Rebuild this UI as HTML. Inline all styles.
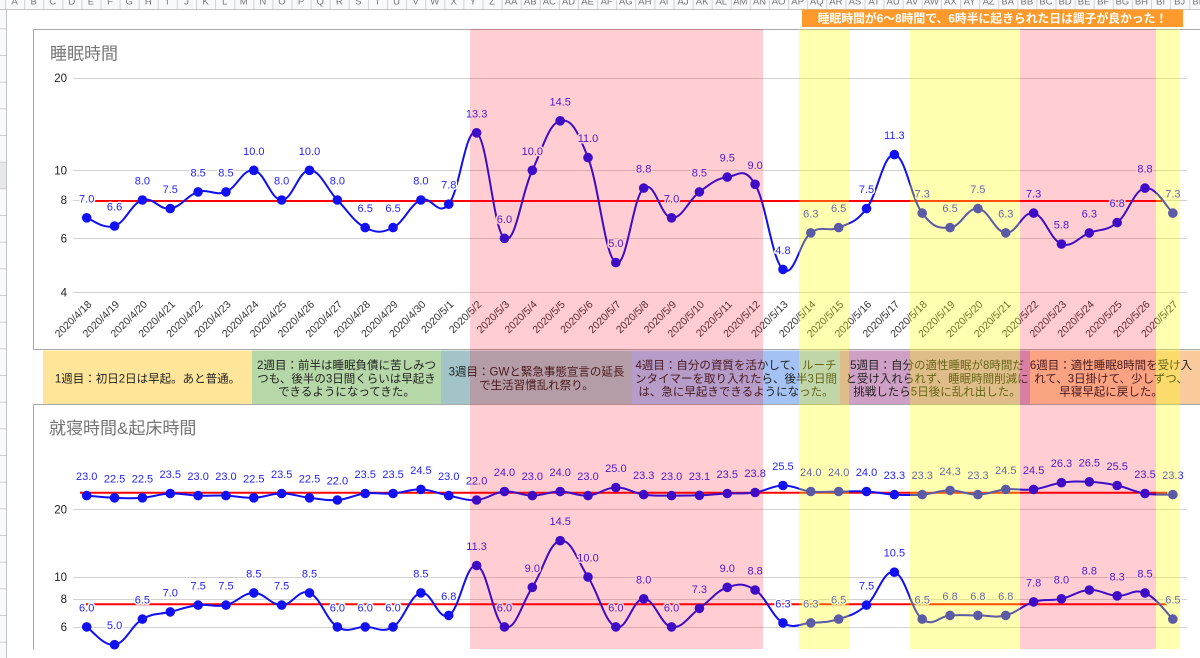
<!DOCTYPE html>
<html><head><meta charset="utf-8">
<style>
html,body{margin:0;padding:0;background:#fff;overflow:hidden;}
svg{display:block;}
text{font-family:"Liberation Sans","Noto Sans CJK JP",sans-serif;}
.l{font-size:11px;fill:#2424f4;text-anchor:middle;paint-order:stroke;stroke:#fff;stroke-width:3px;stroke-linejoin:round;}
.x{font-size:10.5px;fill:#333;text-anchor:end;}
circle{fill:#1010f0;}
.ya{font-size:11.5px;fill:#222;text-anchor:end;}
.an{font-size:11.5px;fill:#1f1f1f;text-anchor:middle;}
.hd{font-size:9.5px;fill:#777;text-anchor:middle;}
.tt{font-size:17px;fill:#757575;}
.ln{fill:none;stroke:#1010f0;stroke-width:2;vector-effect:non-scaling-stroke;}
</style></head><body>
<svg width="1200" height="658" viewBox="0 0 1200 658" xmlns="http://www.w3.org/2000/svg">
<defs>
<pattern id="hc" x="5" y="0" width="19.1" height="9" patternUnits="userSpaceOnUse"><line x1="0.5" y1="0" x2="0.5" y2="9" stroke="#d3d3d3"/></pattern>
</defs>
<rect width="1200" height="658" fill="#fff"/>

<g stroke="#d2d2d2" stroke-width="1">
<line x1="73" y1="78.5" x2="1187" y2="78.5"/>
<line x1="73" y1="170.5" x2="1187" y2="170.5"/>
<line x1="73" y1="200.5" x2="1187" y2="200.5"/>
<line x1="73" y1="238.5" x2="1187" y2="238.5"/>
<line x1="73" y1="292.5" x2="1187" y2="292.5"/>
<line x1="73" y1="509.5" x2="1187" y2="509.5"/>
<line x1="73" y1="577.5" x2="1187" y2="577.5"/>
<line x1="73" y1="599.5" x2="1187" y2="599.5"/>
<line x1="73" y1="627.5" x2="1187" y2="627.5"/>
</g>
<text class="ya" x="67" y="82">20</text>
<text class="ya" x="67" y="174.5">10</text>
<text class="ya" x="67" y="204">8</text>
<text class="ya" x="67" y="242.5">6</text>
<text class="ya" x="67" y="296.5">4</text>
<text class="ya" x="67" y="513.5">20</text>
<text class="ya" x="67" y="581">10</text>
<text class="ya" x="67" y="603">8</text>
<text class="ya" x="67" y="631">6</text>

<text class="tt" x="50" y="59.5">睡眠時間</text>
<text class="tt" x="49" y="434">就寝時間&amp;起床時間</text>

<g stroke="#ff0000" stroke-width="2">
<line x1="86.7" y1="201" x2="1162" y2="201"/>
<line x1="80" y1="492.7" x2="1167" y2="492.7"/>
<line x1="86" y1="604.3" x2="1167" y2="604.3"/>
</g>

<path class="ln" transform="translate(86.7 0) scale(27.85 1)" d="M0,217.8 C0.2,219.44 0.6,229.56 1,226 S1.6,203.48 2,200 S2.6,210.22 3,208.6 S3.6,195.24 4,191.9 S4.6,196.22 5,191.9 S5.6,168.68 6,170.3 S6.6,200 7,200 S7.6,170.3 8,170.3 S8.6,188.54 9,200 S9.6,222.08 10,227.6 S10.6,233.12 11,227.6 S11.6,204.68 12,200 S12.6,217.64 13,204.2 S13.6,125.98 14,132.8 S14.6,230.8 15,238.3 S15.6,193.8 16,170.3 S16.6,123.34 17,120.8 S17.6,129.24 18,157.6 S18.6,256.5 19,262.6 S19.6,197.06 20,188.1 S20.6,217.04 21,217.8 S21.6,200.04 22,191.9 S22.6,178.62 23,177.1 S23.6,165.84 24,184.3 S24.6,259.68 25,269.4 S25.6,241.26 26,232.9 S26.6,232.46 27,227.6 S27.6,223.2 28,208.6 S28.6,153.7 29,154.6 S29.6,198.5 30,213.1 S30.6,228.5 31,227.6 S31.6,207.54 32,208.6 S32.6,232 33,232.9 S33.6,210.88 34,213.1 S34.6,240.04 35,244 S35.6,237.18 36,232.9 S36.6,231.56 37,222.6 S37.6,190 38,188.1 S38.8,208.1 39,213.1"/>
<path class="ln" transform="translate(86.7 0) scale(27.85 1)" d="M0,626.9 C0.2,630.46 0.6,646.26 1,644.7 S1.6,625.66 2,619.1 S2.6,614.7 3,611.9 S3.6,606.46 4,605.1 S4.6,607.54 5,605.1 S5.6,592.9 6,592.9 S6.6,605.1 7,605.1 S7.6,588.54 8,592.9 S8.6,620.1 9,626.9 S9.6,626.9 10,626.9 S10.6,633.7 11,626.9 S11.6,595.2 12,592.9 S12.6,620.88 13,615.4 S13.6,563.2 14,565.5 S14.6,622.54 15,626.9 S15.6,604.54 16,587.3 S16.6,542.76 17,540.7 S17.6,559.76 18,577 S18.6,622.54 19,626.9 S19.6,598.8 20,598.8 S20.6,624.98 21,626.9 S21.6,616.32 22,608.4 S22.6,590.98 23,587.3 S23.6,582.88 24,590 S24.6,616.32 25,622.9 S25.6,623.66 26,622.9 S26.6,622.66 27,619.1 S27.6,614.48 28,605.1 S28.6,569.4 29,572.2 S29.6,610.46 30,619.1 S30.6,616.14 31,615.4 S31.6,615.4 32,615.4 S32.6,618.1 33,615.4 S33.6,605.22 34,601.9 S34.6,601.18 35,598.8 S35.6,590.6 36,590 S36.6,595.22 37,595.8 S37.6,588.24 38,592.9 S38.8,613.86 39,619.1"/>
<path class="ln" transform="translate(86.7 0) scale(27.85 1)" d="M0,495.6 C0.2,496.04 0.6,497.36 1,497.8 S1.6,498.66 2,497.8 S2.6,493.94 3,493.5 S3.6,495.18 4,495.6 S4.6,495.16 5,495.6 S5.6,498.22 6,497.8 S6.6,493.5 7,493.5 S7.6,496.5 8,497.8 S8.6,500.86 9,500 S9.6,494.8 10,493.5 S10.6,494.32 11,493.5 S11.6,488.98 12,489.4 S12.6,493.48 13,495.6 S13.6,500.82 14,500 S14.6,492.38 15,491.5 S15.6,495.6 16,495.6 S16.6,491.5 17,491.5 S17.6,496.4 18,495.6 S18.6,487.7 19,487.5 S19.6,492.98 20,494.6 S20.6,495.46 21,495.6 S21.6,495.72 22,495.3 S22.6,494.06 23,493.5 S23.6,494.1 24,492.5 S24.6,485.7 25,485.5 S25.6,490.3 26,491.5 S26.6,491.5 27,491.5 S27.6,490.88 28,491.5 S28.6,493.98 29,494.6 S29.6,495.44 30,494.6 S30.6,490.4 31,490.4 S31.6,494.8 32,494.6 S32.6,490.44 33,489.4 S33.6,490.74 34,489.4 S34.6,484.22 35,482.7 S35.6,481.24 36,481.8 S36.6,483.16 37,485.5 S37.6,491.68 38,493.5 S38.8,494.38 39,494.6"/>

<g transform="translate(86.7 0)"><circle r="4.8" cy="217.8"/><circle r="4.8" cy="495.6"/><circle r="4.8" cy="626.9"/><text class="l" y="202.3">7.0</text><text class="l" y="480.1">23.0</text><text class="l" y="611.4">6.0</text><text class="x" transform="translate(5.5 305) rotate(-45)">2020/4/18</text></g>
<g transform="translate(114.55 0)"><circle r="4.8" cy="226"/><circle r="4.8" cy="497.8"/><circle r="4.8" cy="644.7"/><text class="l" y="210.5">6.6</text><text class="l" y="482.3">22.5</text><text class="l" y="629.2">5.0</text><text class="x" transform="translate(5.5 305) rotate(-45)">2020/4/19</text></g>
<g transform="translate(142.4 0)"><circle r="4.8" cy="200"/><circle r="4.8" cy="497.8"/><circle r="4.8" cy="619.1"/><text class="l" y="184.5">8.0</text><text class="l" y="482.3">22.5</text><text class="l" y="603.6">6.5</text><text class="x" transform="translate(5.5 305) rotate(-45)">2020/4/20</text></g>
<g transform="translate(170.25 0)"><circle r="4.8" cy="208.6"/><circle r="4.8" cy="493.5"/><circle r="4.8" cy="611.9"/><text class="l" y="193.1">7.5</text><text class="l" y="478">23.5</text><text class="l" y="596.4">7.0</text><text class="x" transform="translate(5.5 305) rotate(-45)">2020/4/21</text></g>
<g transform="translate(198.1 0)"><circle r="4.8" cy="191.9"/><circle r="4.8" cy="495.6"/><circle r="4.8" cy="605.1"/><text class="l" y="176.4">8.5</text><text class="l" y="480.1">23.0</text><text class="l" y="589.6">7.5</text><text class="x" transform="translate(5.5 305) rotate(-45)">2020/4/22</text></g>
<g transform="translate(225.95 0)"><circle r="4.8" cy="191.9"/><circle r="4.8" cy="495.6"/><circle r="4.8" cy="605.1"/><text class="l" y="176.4">8.5</text><text class="l" y="480.1">23.0</text><text class="l" y="589.6">7.5</text><text class="x" transform="translate(5.5 305) rotate(-45)">2020/4/23</text></g>
<g transform="translate(253.8 0)"><circle r="4.8" cy="170.3"/><circle r="4.8" cy="497.8"/><circle r="4.8" cy="592.9"/><text class="l" y="154.8">10.0</text><text class="l" y="482.3">22.5</text><text class="l" y="577.4">8.5</text><text class="x" transform="translate(5.5 305) rotate(-45)">2020/4/24</text></g>
<g transform="translate(281.65 0)"><circle r="4.8" cy="200"/><circle r="4.8" cy="493.5"/><circle r="4.8" cy="605.1"/><text class="l" y="184.5">8.0</text><text class="l" y="478">23.5</text><text class="l" y="589.6">7.5</text><text class="x" transform="translate(5.5 305) rotate(-45)">2020/4/25</text></g>
<g transform="translate(309.5 0)"><circle r="4.8" cy="170.3"/><circle r="4.8" cy="497.8"/><circle r="4.8" cy="592.9"/><text class="l" y="154.8">10.0</text><text class="l" y="482.3">22.5</text><text class="l" y="577.4">8.5</text><text class="x" transform="translate(5.5 305) rotate(-45)">2020/4/26</text></g>
<g transform="translate(337.35 0)"><circle r="4.8" cy="200"/><circle r="4.8" cy="500"/><circle r="4.8" cy="626.9"/><text class="l" y="184.5">8.0</text><text class="l" y="484.5">22.0</text><text class="l" y="611.4">6.0</text><text class="x" transform="translate(5.5 305) rotate(-45)">2020/4/27</text></g>
<g transform="translate(365.2 0)"><circle r="4.8" cy="227.6"/><circle r="4.8" cy="493.5"/><circle r="4.8" cy="626.9"/><text class="l" y="212.1">6.5</text><text class="l" y="478">23.5</text><text class="l" y="611.4">6.0</text><text class="x" transform="translate(5.5 305) rotate(-45)">2020/4/28</text></g>
<g transform="translate(393.05 0)"><circle r="4.8" cy="227.6"/><circle r="4.8" cy="493.5"/><circle r="4.8" cy="626.9"/><text class="l" y="212.1">6.5</text><text class="l" y="478">23.5</text><text class="l" y="611.4">6.0</text><text class="x" transform="translate(5.5 305) rotate(-45)">2020/4/29</text></g>
<g transform="translate(420.9 0)"><circle r="4.8" cy="200"/><circle r="4.8" cy="489.4"/><circle r="4.8" cy="592.9"/><text class="l" y="184.5">8.0</text><text class="l" y="473.9">24.5</text><text class="l" y="577.4">8.5</text><text class="x" transform="translate(5.5 305) rotate(-45)">2020/4/30</text></g>
<g transform="translate(448.75 0)"><circle r="4.8" cy="204.2"/><circle r="4.8" cy="495.6"/><circle r="4.8" cy="615.4"/><text class="l" y="188.7">7.8</text><text class="l" y="480.1">23.0</text><text class="l" y="599.9">6.8</text><text class="x" transform="translate(5.5 305) rotate(-45)">2020/5/1</text></g>
<g transform="translate(476.6 0)"><circle r="4.8" cy="132.8"/><circle r="4.8" cy="500"/><circle r="4.8" cy="565.5"/><text class="l" y="117.3">13.3</text><text class="l" y="484.5">22.0</text><text class="l" y="550">11.3</text><text class="x" transform="translate(5.5 305) rotate(-45)">2020/5/2</text></g>
<g transform="translate(504.45 0)"><circle r="4.8" cy="238.3"/><circle r="4.8" cy="491.5"/><circle r="4.8" cy="626.9"/><text class="l" y="222.8">6.0</text><text class="l" y="476">24.0</text><text class="l" y="611.4">6.0</text><text class="x" transform="translate(5.5 305) rotate(-45)">2020/5/3</text></g>
<g transform="translate(532.3 0)"><circle r="4.8" cy="170.3"/><circle r="4.8" cy="495.6"/><circle r="4.8" cy="587.3"/><text class="l" y="154.8">10.0</text><text class="l" y="480.1">23.0</text><text class="l" y="571.8">9.0</text><text class="x" transform="translate(5.5 305) rotate(-45)">2020/5/4</text></g>
<g transform="translate(560.15 0)"><circle r="4.8" cy="120.8"/><circle r="4.8" cy="491.5"/><circle r="4.8" cy="540.7"/><text class="l" y="105.3">14.5</text><text class="l" y="476">24.0</text><text class="l" y="525.2">14.5</text><text class="x" transform="translate(5.5 305) rotate(-45)">2020/5/5</text></g>
<g transform="translate(588 0)"><circle r="4.8" cy="157.6"/><circle r="4.8" cy="495.6"/><circle r="4.8" cy="577"/><text class="l" y="142.1">11.0</text><text class="l" y="480.1">23.0</text><text class="l" y="561.5">10.0</text><text class="x" transform="translate(5.5 305) rotate(-45)">2020/5/6</text></g>
<g transform="translate(615.85 0)"><circle r="4.8" cy="262.6"/><circle r="4.8" cy="487.5"/><circle r="4.8" cy="626.9"/><text class="l" y="247.1">5.0</text><text class="l" y="472">25.0</text><text class="l" y="611.4">6.0</text><text class="x" transform="translate(5.5 305) rotate(-45)">2020/5/7</text></g>
<g transform="translate(643.7 0)"><circle r="4.8" cy="188.1"/><circle r="4.8" cy="494.6"/><circle r="4.8" cy="598.8"/><text class="l" y="172.6">8.8</text><text class="l" y="479.1">23.3</text><text class="l" y="583.3">8.0</text><text class="x" transform="translate(5.5 305) rotate(-45)">2020/5/8</text></g>
<g transform="translate(671.55 0)"><circle r="4.8" cy="217.8"/><circle r="4.8" cy="495.6"/><circle r="4.8" cy="626.9"/><text class="l" y="202.3">7.0</text><text class="l" y="480.1">23.0</text><text class="l" y="611.4">6.0</text><text class="x" transform="translate(5.5 305) rotate(-45)">2020/5/9</text></g>
<g transform="translate(699.4 0)"><circle r="4.8" cy="191.9"/><circle r="4.8" cy="495.3"/><circle r="4.8" cy="608.4"/><text class="l" y="176.4">8.5</text><text class="l" y="479.8">23.1</text><text class="l" y="592.9">7.3</text><text class="x" transform="translate(5.5 305) rotate(-45)">2020/5/10</text></g>
<g transform="translate(727.25 0)"><circle r="4.8" cy="177.1"/><circle r="4.8" cy="493.5"/><circle r="4.8" cy="587.3"/><text class="l" y="161.6">9.5</text><text class="l" y="478">23.5</text><text class="l" y="571.8">9.0</text><text class="x" transform="translate(5.5 305) rotate(-45)">2020/5/11</text></g>
<g transform="translate(755.1 0)"><circle r="4.8" cy="184.3"/><circle r="4.8" cy="492.5"/><circle r="4.8" cy="590"/><text class="l" y="168.8">9.0</text><text class="l" y="477">23.8</text><text class="l" y="574.5">8.8</text><text class="x" transform="translate(5.5 305) rotate(-45)">2020/5/12</text></g>
<g transform="translate(782.95 0)"><circle r="4.8" cy="269.4"/><circle r="4.8" cy="485.5"/><circle r="4.8" cy="622.9"/><text class="l" y="253.9">4.8</text><text class="l" y="470">25.5</text><text class="l" y="607.4">6.3</text><text class="x" transform="translate(5.5 305) rotate(-45)">2020/5/13</text></g>
<g transform="translate(810.8 0)"><circle r="4.8" cy="232.9"/><circle r="4.8" cy="491.5"/><circle r="4.8" cy="622.9"/><text class="l" y="217.4">6.3</text><text class="l" y="476">24.0</text><text class="l" y="607.4">6.3</text><text class="x" transform="translate(5.5 305) rotate(-45)">2020/5/14</text></g>
<g transform="translate(838.65 0)"><circle r="4.8" cy="227.6"/><circle r="4.8" cy="491.5"/><circle r="4.8" cy="619.1"/><text class="l" y="212.1">6.5</text><text class="l" y="476">24.0</text><text class="l" y="603.6">6.5</text><text class="x" transform="translate(5.5 305) rotate(-45)">2020/5/15</text></g>
<g transform="translate(866.5 0)"><circle r="4.8" cy="208.6"/><circle r="4.8" cy="491.5"/><circle r="4.8" cy="605.1"/><text class="l" y="193.1">7.5</text><text class="l" y="476">24.0</text><text class="l" y="589.6">7.5</text><text class="x" transform="translate(5.5 305) rotate(-45)">2020/5/16</text></g>
<g transform="translate(894.35 0)"><circle r="4.8" cy="154.6"/><circle r="4.8" cy="494.6"/><circle r="4.8" cy="572.2"/><text class="l" y="139.1">11.3</text><text class="l" y="479.1">23.3</text><text class="l" y="556.7">10.5</text><text class="x" transform="translate(5.5 305) rotate(-45)">2020/5/17</text></g>
<g transform="translate(922.2 0)"><circle r="4.8" cy="213.1"/><circle r="4.8" cy="494.6"/><circle r="4.8" cy="619.1"/><text class="l" y="197.6">7.3</text><text class="l" y="479.1">23.3</text><text class="l" y="603.6">6.5</text><text class="x" transform="translate(5.5 305) rotate(-45)">2020/5/18</text></g>
<g transform="translate(950.05 0)"><circle r="4.8" cy="227.6"/><circle r="4.8" cy="490.4"/><circle r="4.8" cy="615.4"/><text class="l" y="212.1">6.5</text><text class="l" y="474.9">24.3</text><text class="l" y="599.9">6.8</text><text class="x" transform="translate(5.5 305) rotate(-45)">2020/5/19</text></g>
<g transform="translate(977.9 0)"><circle r="4.8" cy="208.6"/><circle r="4.8" cy="494.6"/><circle r="4.8" cy="615.4"/><text class="l" y="193.1">7.5</text><text class="l" y="479.1">23.3</text><text class="l" y="599.9">6.8</text><text class="x" transform="translate(5.5 305) rotate(-45)">2020/5/20</text></g>
<g transform="translate(1005.75 0)"><circle r="4.8" cy="232.9"/><circle r="4.8" cy="489.4"/><circle r="4.8" cy="615.4"/><text class="l" y="217.4">6.3</text><text class="l" y="473.9">24.5</text><text class="l" y="599.9">6.8</text><text class="x" transform="translate(5.5 305) rotate(-45)">2020/5/21</text></g>
<g transform="translate(1033.6 0)"><circle r="4.8" cy="213.1"/><circle r="4.8" cy="489.4"/><circle r="4.8" cy="601.9"/><text class="l" y="197.6">7.3</text><text class="l" y="473.9">24.5</text><text class="l" y="586.4">7.8</text><text class="x" transform="translate(5.5 305) rotate(-45)">2020/5/22</text></g>
<g transform="translate(1061.45 0)"><circle r="4.8" cy="244"/><circle r="4.8" cy="482.7"/><circle r="4.8" cy="598.8"/><text class="l" y="228.5">5.8</text><text class="l" y="467.2">26.3</text><text class="l" y="583.3">8.0</text><text class="x" transform="translate(5.5 305) rotate(-45)">2020/5/23</text></g>
<g transform="translate(1089.3 0)"><circle r="4.8" cy="232.9"/><circle r="4.8" cy="481.8"/><circle r="4.8" cy="590"/><text class="l" y="217.4">6.3</text><text class="l" y="466.3">26.5</text><text class="l" y="574.5">8.8</text><text class="x" transform="translate(5.5 305) rotate(-45)">2020/5/24</text></g>
<g transform="translate(1117.15 0)"><circle r="4.8" cy="222.6"/><circle r="4.8" cy="485.5"/><circle r="4.8" cy="595.8"/><text class="l" y="207.1">6.8</text><text class="l" y="470">25.5</text><text class="l" y="580.3">8.3</text><text class="x" transform="translate(5.5 305) rotate(-45)">2020/5/25</text></g>
<g transform="translate(1145 0)"><circle r="4.8" cy="188.1"/><circle r="4.8" cy="493.5"/><circle r="4.8" cy="592.9"/><text class="l" y="172.6">8.8</text><text class="l" y="478">23.5</text><text class="l" y="577.4">8.5</text><text class="x" transform="translate(5.5 305) rotate(-45)">2020/5/26</text></g>
<g transform="translate(1172.85 0)"><circle r="4.8" cy="213.1"/><circle r="4.8" cy="494.6"/><circle r="4.8" cy="619.1"/><text class="l" y="197.6">7.3</text><text class="l" y="479.1">23.3</text><text class="l" y="603.6">6.5</text><text class="x" transform="translate(5.5 305) rotate(-45)">2020/5/27</text></g>

<path d="M33.5 29.5H1200 M33.5 29.5V349.5 M33.5 349.5H1200 M33.5 404.5H1200 M33.5 404.5V649" stroke="#a8a8a8" fill="none"/>

<rect x="43" y="350.5" width="209" height="53.5" fill="#ffe599"/>
<rect x="252" y="350.5" width="189" height="53.5" fill="#b6d7a8"/>
<rect x="441" y="350.5" width="191" height="53.5" fill="#a2c4c9"/>
<rect x="632" y="350.5" width="208" height="53.5" fill="#a4c2f4"/>
<rect x="840" y="350.5" width="190" height="53.5" fill="#cfa0c5"/>
<rect x="1030" y="350.5" width="170" height="53.5" fill="#f9cb9c"/>
<text class="an" x="147.5" y="382.3">1週目：初日2日は早起。あと普通。</text>
<text class="an" x="346.5" y="369">2週目：前半は睡眠負債に苦しみつ</text>
<text class="an" x="346.5" y="382.3">つも、後半の3日間くらいは早起き</text>
<text class="an" x="346.5" y="395.7">できるようになってきた。</text>
<text class="an" x="536.5" y="375.7">3週目：GWと緊急事態宣言の延長</text>
<text class="an" x="536.5" y="389">で生活習慣乱れ祭り。</text>
<text class="an" x="736" y="369">4週目：自分の資質を活かして、ルーチ</text>
<text class="an" x="736" y="382.3">ンタイマーを取り入れたら、後半3日間</text>
<text class="an" x="736" y="395.7">は、急に早起きできるようになった。</text>
<text class="an" x="937" y="369">5週目：自分の適性睡眠が8時間だ</text>
<text class="an" x="937" y="382.3">と受け入れられず、睡眠時間削減に</text>
<text class="an" x="937" y="395.7">挑戦したら5日後に乱れ出した。</text>
<text class="an" x="1111" y="369">6週目：適性睡眠8時間を受け入</text>
<text class="an" x="1111" y="382.3">れて、3日掛けて、少しずつ、</text>
<text class="an" x="1111" y="395.7">早寝早起に戻した。</text>

<rect x="470" y="29" width="293" height="620" fill="rgba(255,0,25,0.197)"/>
<rect x="799" y="29" width="50" height="620" fill="rgba(255,255,0,0.31)"/>
<rect x="910" y="29" width="110" height="620" fill="rgba(255,255,0,0.31)"/>
<rect x="1020" y="29" width="136" height="620" fill="rgba(255,0,25,0.197)"/>
<rect x="1156" y="29" width="24" height="620" fill="rgba(255,255,0,0.31)"/>

<rect x="0" y="0" width="1200" height="9.5" fill="#f8f9fa"/>
<rect x="0" y="0" width="1200" height="9.5" fill="url(#hc)"/>
<text class="hd" y="4.5"><tspan x="14.55">A</tspan><tspan x="33.65">B</tspan><tspan x="52.75">C</tspan><tspan x="71.85">D</tspan><tspan x="90.95">E</tspan><tspan x="110.05">F</tspan><tspan x="129.15">G</tspan><tspan x="148.25">H</tspan><tspan x="167.35">I</tspan><tspan x="186.45">J</tspan><tspan x="205.55">K</tspan><tspan x="224.65">L</tspan><tspan x="243.75">M</tspan><tspan x="262.85">N</tspan><tspan x="281.95">O</tspan><tspan x="301.05">P</tspan><tspan x="320.15">Q</tspan><tspan x="339.25">R</tspan><tspan x="358.35">S</tspan><tspan x="377.45">T</tspan><tspan x="396.55">U</tspan><tspan x="415.65">V</tspan><tspan x="434.75">W</tspan><tspan x="453.85">X</tspan><tspan x="472.95">Y</tspan><tspan x="492.05">Z</tspan><tspan x="511.15">AA</tspan><tspan x="530.25">AB</tspan><tspan x="549.35">AC</tspan><tspan x="568.45">AD</tspan><tspan x="587.55">AE</tspan><tspan x="606.65">AF</tspan><tspan x="625.75">AG</tspan><tspan x="644.85">AH</tspan><tspan x="663.95">AI</tspan><tspan x="683.05">AJ</tspan><tspan x="702.15">AK</tspan><tspan x="721.25">AL</tspan><tspan x="740.35">AM</tspan><tspan x="759.45">AN</tspan><tspan x="778.55">AO</tspan><tspan x="797.65">AP</tspan><tspan x="816.75">AQ</tspan><tspan x="835.85">AR</tspan><tspan x="854.95">AS</tspan><tspan x="874.05">AT</tspan><tspan x="893.15">AU</tspan><tspan x="912.25">AV</tspan><tspan x="931.35">AW</tspan><tspan x="950.45">AX</tspan><tspan x="969.55">AY</tspan><tspan x="988.65">AZ</tspan><tspan x="1007.75">BA</tspan><tspan x="1026.85">BB</tspan><tspan x="1045.95">BC</tspan><tspan x="1065.05">BD</tspan><tspan x="1084.15">BE</tspan><tspan x="1103.25">BF</tspan><tspan x="1122.35">BG</tspan><tspan x="1141.45">BH</tspan><tspan x="1160.55">BI</tspan><tspan x="1179.65">BJ</tspan><tspan x="1198.75">BK</tspan></text>
<line x1="0" y1="9.5" x2="1200" y2="9.5" stroke="#c4c4c4"/>

<rect x="0" y="10" width="6" height="648" fill="#f8f9fa"/>
<rect x="0" y="162" width="6" height="27" fill="#e6e8eb"/>
<line x1="6.5" y1="10" x2="6.5" y2="658" stroke="#c4c4c4"/>
<path d="M0 28.8H6M0 55.5H6M0 82.1H6M0 108.8H6M0 135.5H6M0 162.1H6M0 188.8H6M0 215.5H6M0 242.1H6M0 268.8H6M0 295.5H6M0 322.1H6M0 348.8H6M0 375.5H6M0 402.1H6M0 428.8H6M0 455.5H6M0 482.1H6M0 508.8H6M0 535.5H6M0 562.1H6M0 588.8H6M0 615.5H6M0 642.1H6" stroke="#d0d0d0"/>

<rect x="802" y="9.5" width="381" height="17.5" fill="#fd9a2b"/>
<text x="992.5" y="22.5" font-size="11.8" font-weight="bold" fill="#ffffff" text-anchor="middle">睡眠時間が6〜8時間で、6時半に起きられた日は調子が良かった！</text>
</svg>
</body></html>
